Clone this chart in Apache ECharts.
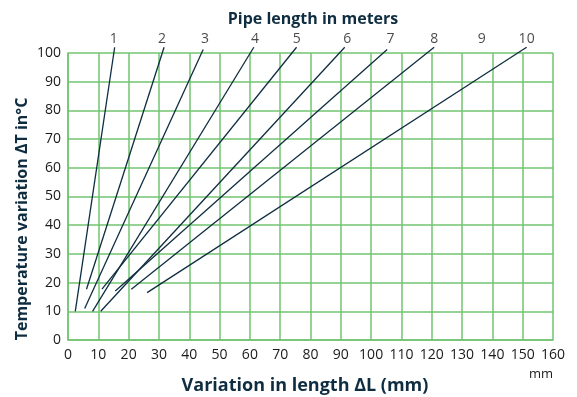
<!DOCTYPE html>
<html lang="en">

<head>
    <meta charset="UTF-8">
    <title>Pipe expansion</title>
    <script src="https://cdn.jsdelivr.net/npm/echarts@6/dist/echarts.min.js"></script>
    <style>
        html, body { margin: 0; padding: 0; background: #fff; }
    </style>
</head>

<body>
    <div id="main" style="width: 577px;height:397px;"></div>
    <script type="text/javascript">
        // pipe lengths drawn (no line for 9 m in the original)
        var lineNames = ['1', '2', '3', '4', '5', '6', '7', '8', '10']
        var startL = [2.4, 6.1, 5.5, 8.1, 11.2, 10.8, 15.6, 20.9, 26.1]
        var startT = [10, 17.7, 11, 10, 17.7, 10, 17.1, 17.7, 16.5]
        var endL = [15.4, 31.7, 44.6, 61.3, 75.4, 91.3, 105.3, 120.8, 151.3]
        var endT = [102, 102, 101.2, 102, 102, 102, 101.2, 102, 102]

        // top labels (pipe length in meters)
        var topNames = ['1', '2', '3', '4', '5', '6', '7', '8', '9', '10']
        var topL = [15.1, 31.0, 45.2, 61.7, 75.5, 92.1, 106.4, 120.8, 136.5, 151.3]
        var topT = 105

        var green = '#72c472'
        var ink = '#0f2d40'
        var font = 'Open Sans'

        var series = []
        lineNames.forEach(function (n, i) {
            series.push({
                name: n,
                type: 'line',
                clip: false,
                symbol: 'none',
                silent: true,
                lineStyle: { color: ink, width: 1.3 },
                data: [[startL[i], startT[i]], [endL[i], endT[i]]]
            })
        })
        series.push({
            type: 'scatter',
            clip: false,
            symbolSize: 0,
            silent: true,
            label: {
                show: true,
                position: 'inside',
                formatter: function (p) { return p.name },
                color: '#1a1a1a',
                fontSize: 14,
                fontFamily: font
            },
            data: topNames.map(function (n, i) { return { name: n, value: [topL[i], topT] } })
        })

        var myChart = echarts.init(document.getElementById('main'));
        var option = {
            animation: false,
            title: [
                {
                    text: 'Pipe length in meters',
                    left: 308, top: 6, textAlign: 'center',
                    textStyle: { fontSize: 16, fontWeight: 'bold', color: ink, fontFamily: font }
                },
                {
                    text: 'Variation in length ΔL (mm)',
                    left: 300, top: 372, textAlign: 'center',
                    textStyle: { fontSize: 18, fontWeight: 'bold', color: ink, fontFamily: font }
                },
                {
                    text: 'mm',
                    left: 536, top: 363, textAlign: 'center',
                    textStyle: { fontSize: 13, fontWeight: 'normal', color: '#1a1a1a', fontFamily: font }
                }
            ],
            graphic: [{
                type: 'text',
                x: 22, y: 219,
                rotation: Math.PI / 2,
                style: {
                    text: 'Temperature variation ΔT in°C',
                    fill: ink,
                    font: 'bold 16px "Open Sans"',
                    textAlign: 'center',
                    textVerticalAlign: 'middle'
                }
            }],
            grid: { left: 68, right: 24, top: 53, bottom: 57 },
            xAxis: {
                type: 'value',
                min: 0, max: 160, interval: 10,
                axisLine: { lineStyle: { color: green, width: 1.5 } },
                axisTick: { show: false },
                axisLabel: { color: '#1a1a1a', fontSize: 14, margin: 8, fontFamily: font },
                splitLine: { show: true, lineStyle: { color: green, width: 1.5 } }
            },
            yAxis: {
                type: 'value',
                min: 0, max: 100, interval: 10,
                axisLine: { show: true, lineStyle: { color: green, width: 1.5 } },
                axisTick: { show: false },
                axisLabel: { color: '#1a1a1a', fontSize: 14, margin: 7, fontFamily: font },
                splitLine: { show: true, lineStyle: { color: green, width: 1.5 } }
            },
            series: series
        };
        myChart.setOption(option);
    </script>
</body>

</html>
